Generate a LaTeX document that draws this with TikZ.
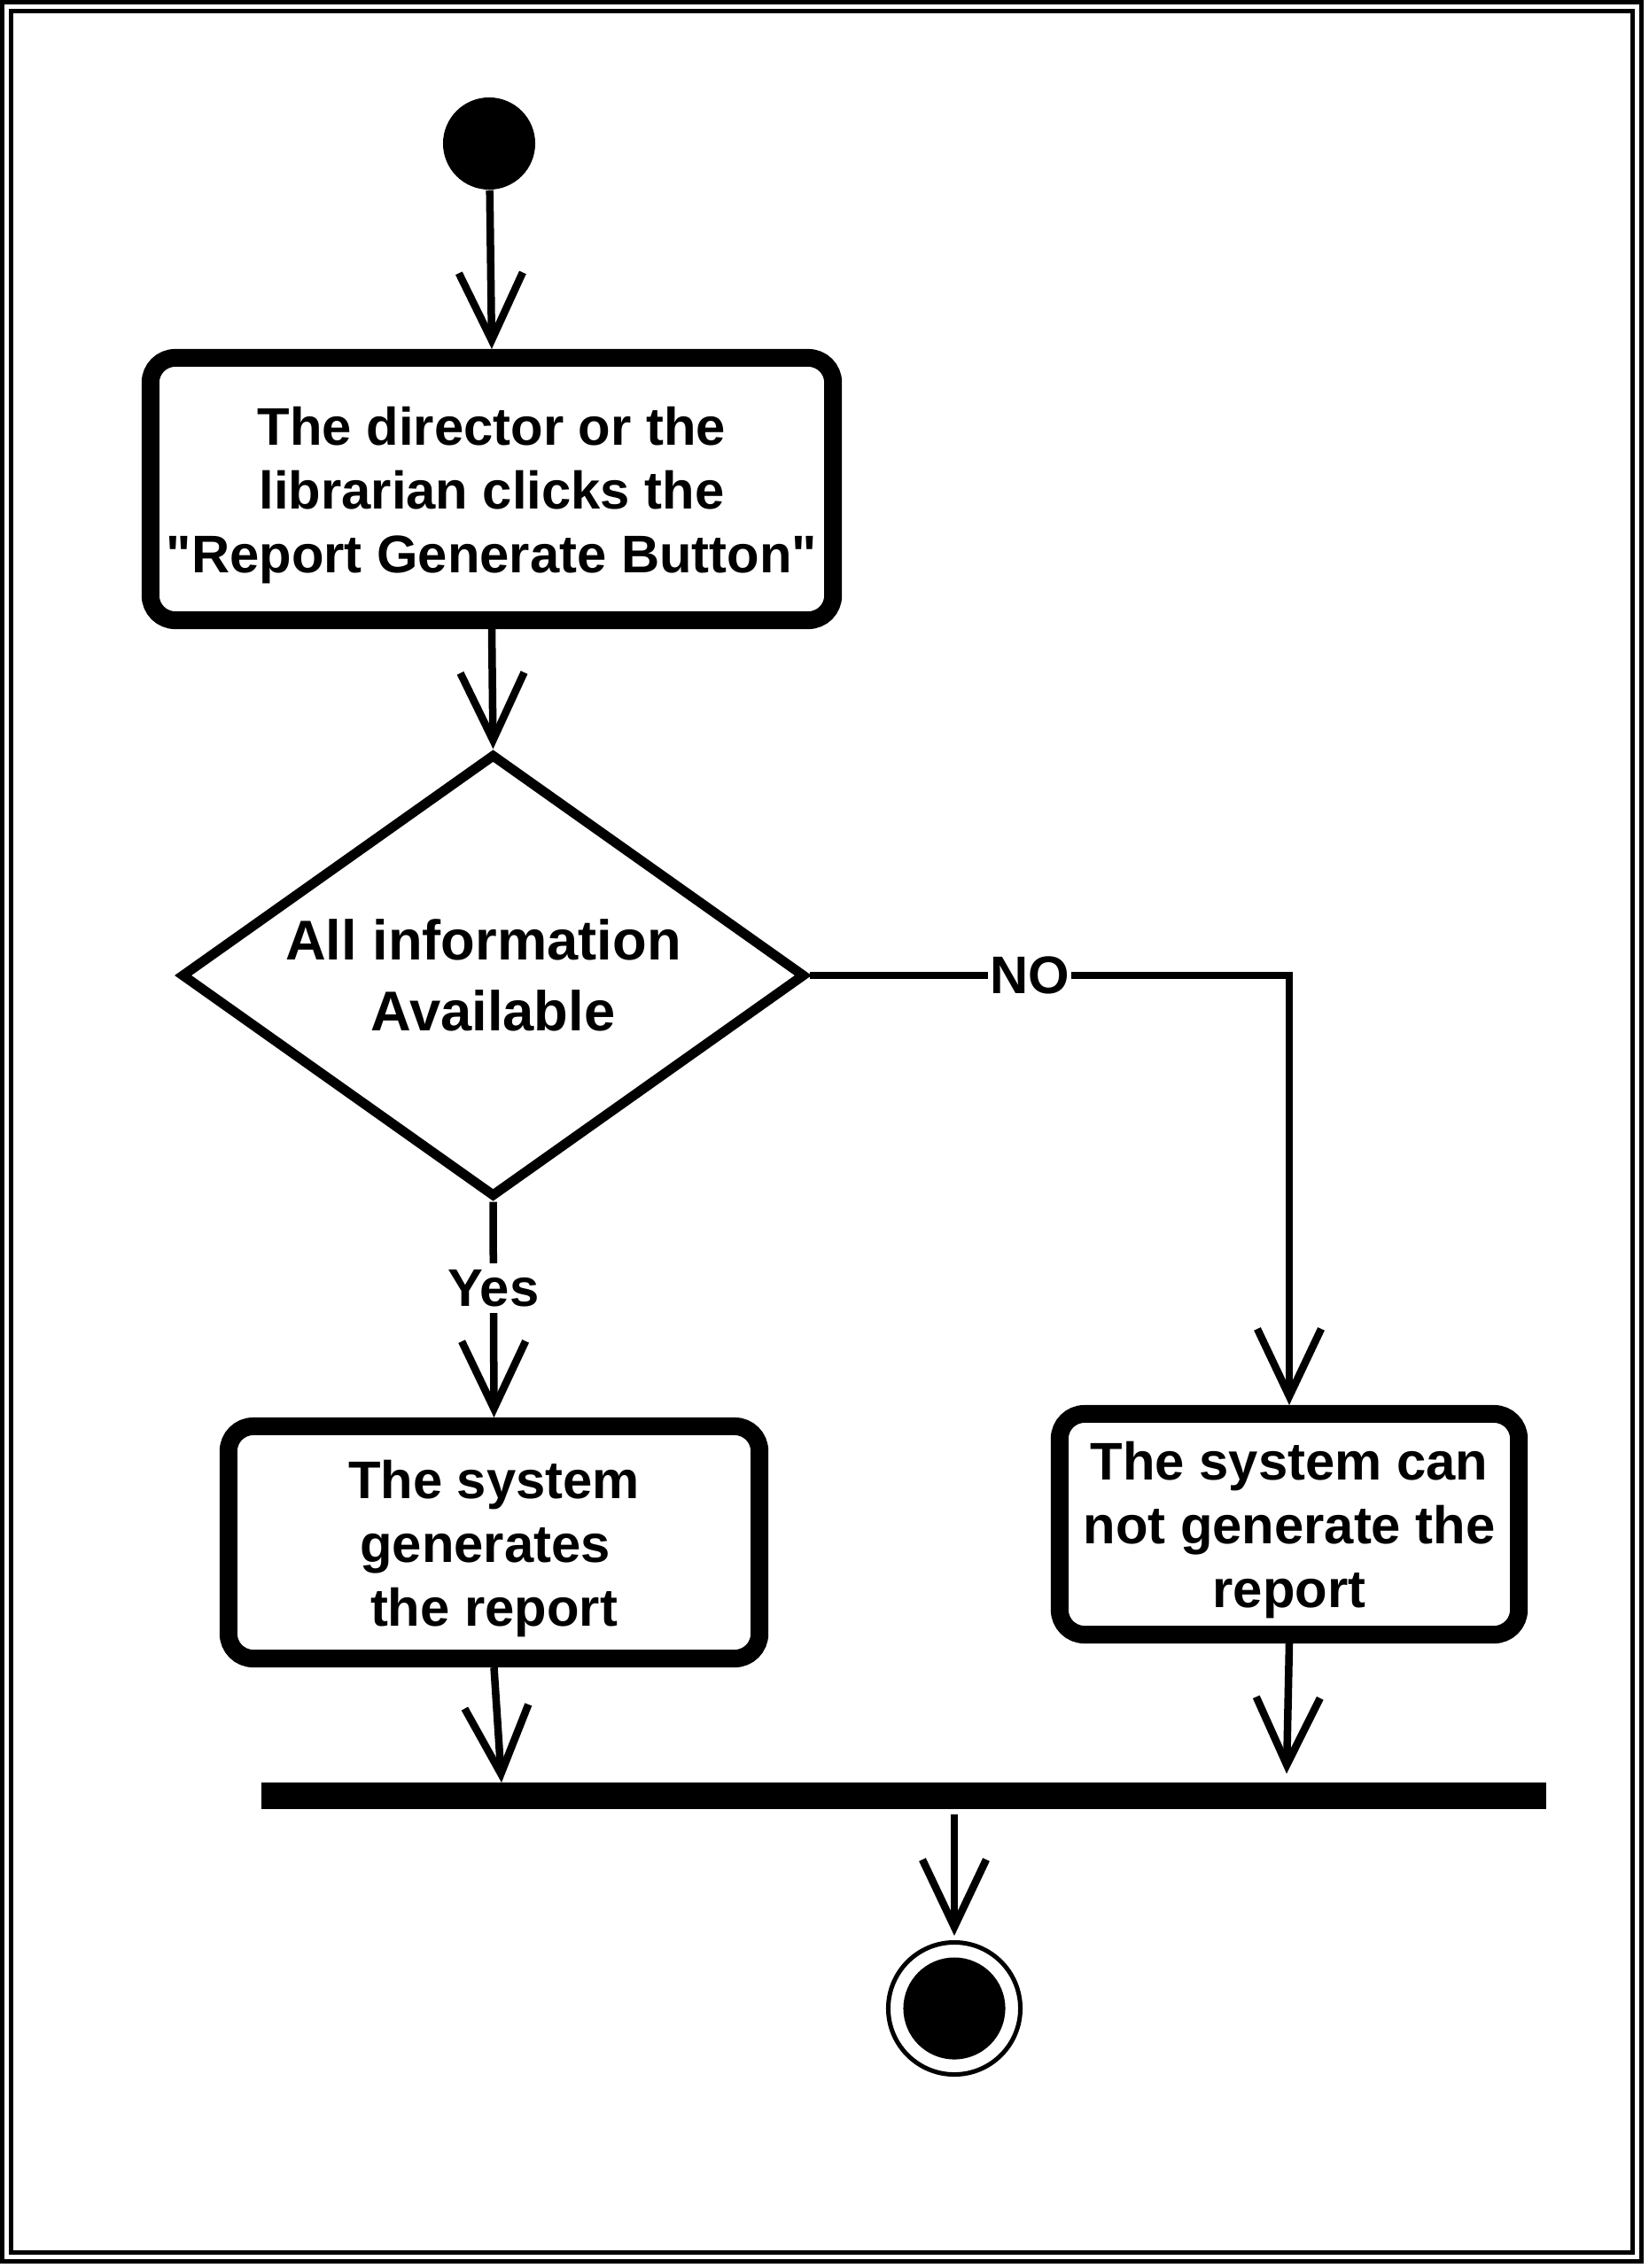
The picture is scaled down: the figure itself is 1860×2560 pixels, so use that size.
\documentclass[tikz,border=0pt]{standalone}
\usepackage{fontspec}
\setmainfont{Liberation Sans}[Ligatures=TeXOff]
\usetikzlibrary{arrows.meta,shapes.geometric}
\newcommand\boxstrut{\rule{0pt}{0.57cm}}
\begin{document}
\begin{tikzpicture}[x=0.01cm,y=-0.01cm,
  frame/.style={line width=0.05cm},
  actbox/.style={draw, line width=0.2cm, rounded corners=0.28cm, align=center, inner sep=0pt,
    font=\fontsize{17pt}{20.5pt}\selectfont\bfseries},
  decbox/.style={draw, diamond, shape aspect=1.4, line width=0.11cm, inner sep=0pt, align=center,
    font=\fontsize{18pt}{22.8pt}\selectfont\bfseries},
  flow/.style={line width=0.085cm, -{Straight Barb[length=0.76cm,width=0.72cm]}},
  lbl/.style={fill=white, inner xsep=0.02cm, inner ysep=0.07cm,
    font=\fontsize{17pt}{20.5pt}\selectfont\bfseries},
]
\useasboundingbox (0,0) rectangle (1860,2560);
\draw[frame] (2.5,2.5) rectangle (1852.5,2552.5);
\draw[frame] (12.5,12.5) rectangle (1842.5,2542.5);

\node[circle, fill=black, minimum size=1.04cm, inner sep=0pt] (start) at (552,162) {};
\node[actbox, minimum width=7.7cm, minimum height=2.96cm] (act1) at (555,552)
  {\boxstrut The director or the\\librarian clicks the\\"Report Generate Button"};
\node[decbox, minimum width=7.04cm, minimum height=5.0cm] (dec) at (556.5,1101)
  {All information\rule{0.22cm}{0pt}\\Available};
\node[actbox, minimum width=5.99cm, minimum height=2.62cm] (act2) at (557.5,1741)
  {\boxstrut The system\\generates\rule{0.2cm}{0pt}\\the report};
\node[actbox, minimum width=5.18cm, minimum height=2.49cm] (act3) at (1455,1720.5)
  {\boxstrut The system can\\not generate the\\report};
\node[fill=black, minimum width=14.5cm, minimum height=0.3cm, inner sep=0pt] (bar) at (1020,2027) {};
\node[circle, draw, line width=0.05cm, minimum size=1.49cm, inner sep=0pt] (final) at (1077,2267) {};
\node[circle, fill=black, minimum size=1.15cm, inner sep=0pt] (finalin) at (final) {};

\coordinate (j1) at (566,2012);
\coordinate (j2) at (1452,2002);

\draw[flow] (start) -- (act1.north);
\draw[flow] (act1.south) -- (dec.north);
\draw[flow] (dec.east) -| node[lbl, pos=0.229] (nolbl) {NO} (act3.north);
\draw[flow] (dec.south) -- node[lbl, pos=0.4] (yeslbl) {Yes} (act2.north);
\draw[flow] (act2.south) -- (j1);
\draw[flow] (act3.south) -- (j2);
\draw[flow, shorten <=0.05cm, shorten >=0.05cm] (bar.south -| final) -- (final.north);
\end{tikzpicture}
\end{document}
